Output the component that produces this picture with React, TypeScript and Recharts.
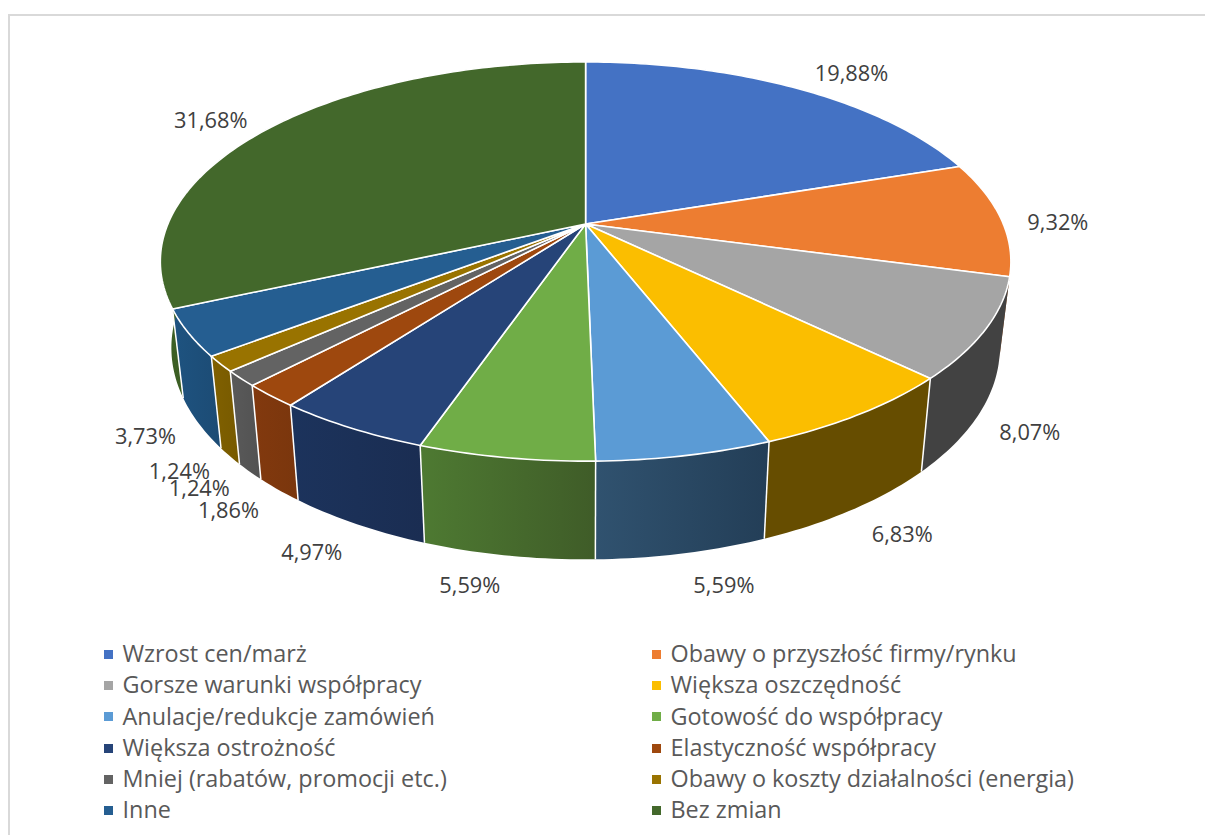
import React from 'react';
import { PieChart, Pie, Legend } from 'recharts';

const categories = [
  'Wzrost cen/marż', 'Obawy o przyszłość firmy/rynku', 'Gorsze warunki współpracy', 'Większa oszczędność',
  'Anulacje/redukcje zamówień', 'Gotowość do współpracy', 'Większa ostrożność', 'Elastyczność współpracy',
  'Mniej (rabatów, promocji etc.)', 'Obawy o koszty działalności (energia)', 'Inne', 'Bez zmian',
];
const values = [19.88, 9.32, 8.07, 6.83, 5.59, 5.59, 4.97, 1.86, 1.24, 1.24, 3.73, 31.68];
const topColors = ['#4472C4', '#ED7D31', '#A5A5A5', '#FBBE00', '#5B9BD5', '#70AD47', '#264478', '#9E480E', '#636363', '#997300', '#255E91', '#43682B'];
const wallStart = ['#2F4F88', '#A85822', '#424242', '#664D00', '#30526F', '#4E7A32', '#1C335C', '#82390E', '#5A5A5A', '#806000', '#1E5380', '#3C5F24'];
const wallEnd = ['#2F4F88', '#A85822', '#424242', '#664D00', '#233E57', '#3F5C28', '#1A2D52', '#7A360D', '#525252', '#775A00', '#1C4B74', '#355520'];
const labelShift: [number, number][] = [
  [54, -16], [57, 3], [44, 102], [43, 119], [39, 129], [-36, 126.5], [-39, 124], [-42, 114], [-41.5, 109.5], [-41, 107], [-43, 103], [-57, -9],
];

const rows = categories.map((name, i) => ({ name, value: values[i], fill: topColors[i], wallA: wallStart[i], wallB: wallEnd[i] }));

const K = 0.188;
const FLAT = 0.461;
const RAD = Math.PI / 180;

function rim(a: number, cx: number, cy: number, r: number) {
  const X = Math.cos(a * RAD);
  const Y = Math.sin(a * RAD);
  const w = 1 + K * Y;
  return { x: cx + (r * X) / w, y: cy - (r * FLAT * Y) / w };
}
function floorOf(p: { x: number; y: number }, cx: number, cy: number) {
  return { x: cx + 0.974 * (p.x - cx), y: cy + 84 + 1.06 * (p.y - cy) };
}
function arc(a0: number, a1: number, cx: number, cy: number, r: number) {
  const n = Math.max(2, Math.ceil(Math.abs(a1 - a0)));
  const pts = [];
  for (let i = 0; i <= n; i++) pts.push(rim(a0 + ((a1 - a0) * i) / n, cx, cy, r));
  return pts;
}
const toD = (pts: { x: number; y: number }[]) => pts.map((p, i) => `${i ? 'L' : 'M'}${p.x.toFixed(2)} ${p.y.toFixed(2)}`).join(' ');

const TopFace = (p: any) => {
  const pts = arc(p.startAngle, p.endAngle, p.cx, p.cy, p.outerRadius);
  return <path d={`M${p.cx} ${p.cy} ${toD(pts).replace('M', 'L')} Z`} fill={p.fill} stroke="#fff" strokeWidth={1.6} strokeLinejoin="round" />;
};

const Wall = (p: any) => {
  const row = p.payload ?? p;
  const top = arc(p.startAngle, p.endAngle, p.cx, p.cy, p.outerRadius);
  const bottom = top.map((q) => floorOf(q, p.cx, p.cy)).reverse();
  const id = `wall-${categories.indexOf(row.name)}`;
  const first = top[0];
  const firstB = floorOf(first, p.cx, p.cy);
  const showEdge = Math.sin(p.startAngle * RAD) < -0.3;
  return (
    <g>
      <defs>
        <linearGradient id={id} x1="0" x2="1" y1="0" y2="0">
          <stop offset="0" stopColor={row.wallA} />
          <stop offset="1" stopColor={row.wallB} />
        </linearGradient>
      </defs>
      <path d={`${toD(top)} ${toD(bottom).replace('M', 'L')} Z`} fill={`url(#${id})`} stroke="none" />
      {showEdge && <line x1={first.x} y1={first.y} x2={firstB.x} y2={firstB.y} stroke="#fff" strokeWidth={1.5} />}
    </g>
  );
};

const renderLabel = (p: any) => {
  const q = rim(p.midAngle, p.cx, p.cy, p.outerRadius);
  const [dx, dy] = labelShift[p.index];
  return (
    <text x={q.x + dx} y={q.y + dy} textAnchor="middle" dominantBaseline="central" fill="#404040" fontFamily="'Open Sans'" fontSize={21.8}>
      {values[p.index].toFixed(2).replace('.', ',')}%
    </text>
  );
};

const legendRows = [653, 684.3, 715.7, 747, 778, 809.3];
const legendCols = [104, 652];

const LegendBlock = ({ payload }: any) => {
  const seen = new Set<string>();
  const items = (payload ?? []).filter((e: any) => {
    if (e.type === 'none' || seen.has(e.value)) return false;
    seen.add(e.value);
    return true;
  });
  return (
    <div style={{ position: 'relative', width: 1205, height: 835 }}>
      {items.map((e: any, i: number) => {
        const col = legendCols[i % 2];
        const y = legendRows[Math.floor(i / 2)];
        return (
          <React.Fragment key={e.value}>
            <span style={{ position: 'absolute', left: col, top: y - 3.5, width: 9, height: 9, background: e.color }} />
            <span style={{ position: 'absolute', left: col + 18.5, top: y - 15, lineHeight: '30px', whiteSpace: 'nowrap', fontFamily: "'Open Sans'", fontSize: 23.4, color: '#595959' }}>
              {e.value}
            </span>
          </React.Fragment>
        );
      })}
    </div>
  );
};

export default function App() {
  return (
    <div style={{ position: 'absolute', left: 0, top: 0, width: 1205, height: 835, background: '#fff', overflow: 'hidden' }}>
      <div style={{ position: 'absolute', left: 8, top: 14, width: 1300, height: 900, border: '2px solid #D9D9D9', boxSizing: 'border-box' }} />
      <div style={{ position: 'absolute', left: 0, top: 0 }}>
        <PieChart width={1205} height={835} margin={{ top: 0, right: 0, bottom: 0, left: 0 }}>
          <Pie data={rows} dataKey="value" nameKey="name" cx={585.6} cy={224} outerRadius={417.7} startAngle={90} endAngle={-270} legendType="none" shape={Wall} isAnimationActive={false} label={false} labelLine={false} />
          <Pie data={rows} dataKey="value" nameKey="name" cx={585.6} cy={224} outerRadius={417.7} startAngle={90} endAngle={-270} shape={TopFace} isAnimationActive={false} label={renderLabel} labelLine={false} />
          <Legend itemSorter={null} content={<LegendBlock />} wrapperStyle={{ left: 0, top: 0, bottom: 'auto', width: 1205, height: 835, pointerEvents: 'none' }} />
        </PieChart>
      </div>
    </div>
  );
}
